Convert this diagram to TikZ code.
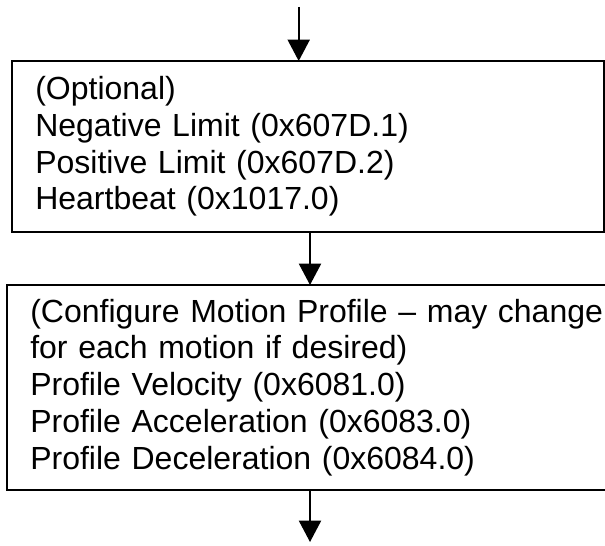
\documentclass[tikz,border=0pt]{standalone}
\usepackage{fontspec}
\setmainfont{Liberation Sans}
\usetikzlibrary{arrows.meta,positioning}

\begin{document}
\begin{tikzpicture}[
  x=0.75pt,y=-0.75pt,
  node distance=39.75pt,
  box/.style={draw,line width=1.5pt,outer sep=0pt,align=left,anchor=north west,inner xsep=17.25pt,inner ysep=0pt,font=\fontsize{24}{27.6}\selectfont},
  arrow/.style={-{Triangle[length=16pt,width=16.5pt]},line width=1.5pt}
]
\useasboundingbox (0,0) rectangle (605,545);
\node[box,text width=409.3pt,minimum height=128.25pt] (limits) at (12.3,61) {(Optional)\\Negative Limit (0x607D.1)\\Positive Limit (0x607D.2)\\Heartbeat (0x1017.0)};
\node[box,below=of limits.south west,anchor=north west,xshift=-3.75pt,text width=440pt,minimum height=153.75pt] (profile) {(Configure Motion Profile -- may change\\for each motion if desired)\\Profile Velocity (0x6081.0)\\Profile Acceleration (0x6083.0)\\Profile Deceleration (0x6084.0)};
\coordinate (in) at (298.7,7);
\coordinate (out) at (310,542);
\draw[arrow] (in) -- (in |- limits.north);
\draw[arrow] (limits.south -| out) -- (profile.north -| out);
\draw[arrow] (profile.south -| out) -- (out);
\end{tikzpicture}
\end{document}
